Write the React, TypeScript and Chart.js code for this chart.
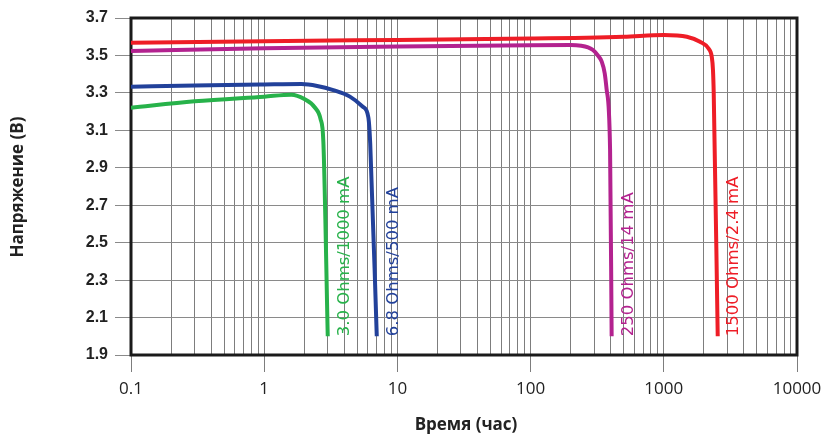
import React, { useEffect, useRef } from "react";
import { Chart, registerables } from "chart.js";

Chart.register(...registerables);

// ---- Data ----
const greenTimes = [0.1, 0.3, 1, 1.6, 2.0, 2.4, 2.65, 2.78, 3.0];
const greenVolts = [3.22, 3.255, 3.28, 3.29, 3.267, 3.222, 3.16, 3.04, 2.0];

const blueTimes = [0.1, 0.3, 1, 1.9, 2.5, 3.3, 4.4, 5.5, 6.05, 6.25, 7.0];
const blueVolts = [3.333, 3.34, 3.345, 3.347, 3.337, 3.315, 3.28, 3.226, 3.17, 3.03, 2.0];

const purpleTimes = [0.1, 1, 10, 100, 200, 240, 270, 294, 320, 342, 360, 372, 395, 406];
const purpleVolts = [3.524, 3.538, 3.548, 3.555, 3.556, 3.552, 3.543, 3.529, 3.5, 3.467, 3.405, 3.32, 3.0, 2.0];

const redTimes = [0.1, 1, 10, 100, 500, 1000, 1490, 1870, 2160, 2290, 2340, 2370, 2540];
const redVolts = [3.568, 3.576, 3.583, 3.59, 3.6, 3.609, 3.6, 3.573, 3.538, 3.493, 3.422, 3.3, 2.0];

const seriesLabels = ["3.0 Ohms/1000 mA", "6.8 Ohms/500 mA", "250 Ohms/14 mA", "1500 Ohms/2.4 mA"];
const seriesColors = ["#27b24a", "#22419a", "#b3228f", "#ee1d26"];
// x position (time) where each rotated label is placed, starting at voltage 2.0
const labelTimes = [4.0, 9.4, 545, 3350];
const labelStartVolt = 2.0;

const xTickLabels = [0.1, 1, 10, 100, 1000, 10000];
const yTickValues = [1.9, 2.1, 2.3, 2.5, 2.7, 2.9, 3.1, 3.3, 3.5, 3.7];

const xTitle = "Время (час)";
const yTitle = "Напряжение (В)";

function toPoints(xs: number[], ys: number[]) {
  return xs.map((x, i) => ({ x, y: ys[i] }));
}

export default function App() {
  const ref = useRef<HTMLCanvasElement | null>(null);

  useEffect(() => {
    document.body.style.margin = "0";
    const canvas = ref.current!;
    const allSeries = [
      toPoints(greenTimes, greenVolts),
      toPoints(blueTimes, blueVolts),
      toPoints(purpleTimes, purpleVolts),
      toPoints(redTimes, redVolts),
    ];

    const isDecade = (v: number) =>
      xTickLabels.some((d) => Math.abs(v - d) / d < 1e-6);

    const overlayPlugin = {
      id: "overlay",
      beforeDatasetsDraw(chart: any) {
        const { ctx, chartArea } = chart;
        ctx.save();
        ctx.strokeStyle = "#1a1a1a";
        ctx.lineWidth = 3;
        ctx.strokeRect(
          chartArea.left,
          chartArea.top,
          chartArea.right - chartArea.left,
          chartArea.bottom - chartArea.top
        );
        ctx.restore();
      },
      afterDatasetsDraw(chart: any) {
        const { ctx, scales } = chart;
        const xs = scales.x;
        const ys = scales.y;
        ctx.save();
        ctx.font = "16.5px 'DejaVu Sans'";
        ctx.textAlign = "left";
        ctx.textBaseline = "middle";
        seriesLabels.forEach((lab, i) => {
          const px = xs.getPixelForValue(labelTimes[i]);
          const py = ys.getPixelForValue(labelStartVolt);
          ctx.save();
          ctx.translate(px, py);
          ctx.rotate(-Math.PI / 2);
          ctx.fillStyle = seriesColors[i];
          ctx.fillText(lab, 0, 0);
          ctx.restore();
        });
        // axis titles
        ctx.fillStyle = "#222";
        ctx.font = "bold 17px 'Open Sans'";
        ctx.textAlign = "center";
        ctx.textBaseline = "middle";
        ctx.fillText(xTitle, 466, 425);
        ctx.save();
        ctx.translate(18, 187);
        ctx.rotate(-Math.PI / 2);
        ctx.fillText(yTitle, 0, 0);
        ctx.restore();
        ctx.restore();
      },
    };

    const chart = new Chart(canvas, {
      type: "line",
      data: {
        datasets: allSeries.map((pts, i) => ({
          label: seriesLabels[i],
          data: pts,
          borderColor: seriesColors[i],
          backgroundColor: seriesColors[i],
          borderWidth: 4,
          pointRadius: 0,
          fill: false,
          cubicInterpolationMode: "monotone" as const,
        })),
      },
      options: {
        responsive: false,
        animation: false,
        devicePixelRatio: 1,
        layout: { padding: { top: 18, right: 26, left: 0, bottom: 0 } },
        plugins: {
          legend: { display: false },
          tooltip: { enabled: false },
        },
        scales: {
          x: {
            type: "logarithmic",
            min: 0.1,
            max: 10000,
            afterBuildTicks(scale: any) {
              const t: any[] = [];
              for (let d = 0; d < xTickLabels.length - 1; d++) {
                const base = xTickLabels[d];
                for (let m = 1; m <= 9; m++) t.push({ value: base * m });
              }
              t.push({ value: xTickLabels[xTickLabels.length - 1] });
              scale.ticks = t;
            },
            afterFit(scale: any) {
              scale.height = 79;
              scale.paddingLeft = 0;
              scale.paddingRight = 0;
            },
            grid: {
              color: "#7d7d7d",
              lineWidth: 1,
              tickLength: 17,
              tickColor: (c: any) => (c.tick && isDecade(c.tick.value) ? "#7d7d7d" : "rgba(0,0,0,0)"),
            },
            border: { display: false },
            ticks: {
              autoSkip: false,
              maxRotation: 0,
              padding: 7,
              color: "#222",
              font: { family: "'Open Sans'", size: 17 },
              callback: (v: any) => {
                const n = Number(v);
                if (!isDecade(n)) return "";
                const d = xTickLabels.find((q) => Math.abs(n - q) / q < 1e-6)!;
                return String(d);
              },
            },
          },
          y: {
            type: "linear",
            min: 1.9,
            max: 3.7,
            afterBuildTicks(scale: any) {
              scale.ticks = yTickValues.map((v) => ({ value: v }));
            },
            afterFit(scale: any) {
              scale.width = 131;
              scale.paddingTop = 0;
              scale.paddingBottom = 0;
            },
            grid: {
              color: "#8a8a8a",
              lineWidth: 1,
              tickLength: 16,
              tickColor: "#8a8a8a",
            },
            border: { display: false },
            ticks: {
              padding: 7,
              color: "#222",
              font: { family: "'Liberation Sans'", size: 16, weight: "bold" },
              callback: (v: any) => Number(v).toFixed(1),
            },
          },
        },
      },
      plugins: [overlayPlugin],
    } as any);

    return () => chart.destroy();
  }, []);

  return (
    <div style={{ width: 823, height: 434 }}>
      <canvas ref={ref} width={823} height={434} style={{ display: "block" }} />
    </div>
  );
}
